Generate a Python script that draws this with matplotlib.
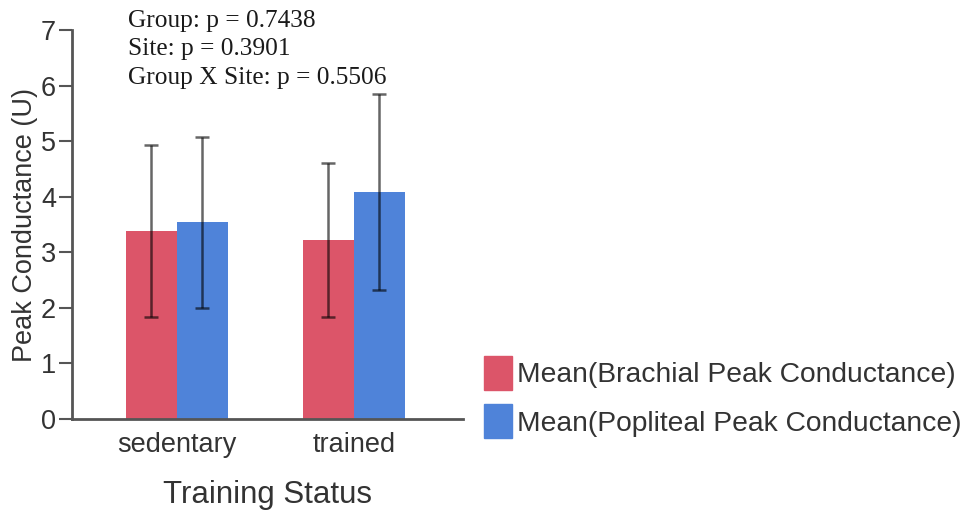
import matplotlib
matplotlib.use("Agg")
import matplotlib.pyplot as plt
import numpy as np
from matplotlib.patches import Patch

# Data
categories = ["sedentary", "trained"]
series_names = ["Mean(Brachial Peak Conductance)", "Mean(Popliteal Peak Conductance)"]
brachial_mean = [3.38, 3.22]
brachial_sd = [1.55, 1.39]
popliteal_mean = [3.54, 4.09]
popliteal_sd = [1.54, 1.76]
y_ticks = [0, 1, 2, 3, 4, 5, 6, 7]
stats_lines = ["Group: p = 0.7438", "Site: p = 0.3901", "Group X Site: p = 0.5506"]

red = "#DC5569"
blue = "#4F83D9"
axis_gray = "#555555"
text_gray = "#333333"

W, H = 971, 512
fig = plt.figure(figsize=(W / 100, H / 100), dpi=100)
ax = fig.add_axes([72 / W, 1 - 419 / H, (463 - 72) / W, (419 - 30) / H])

x = np.arange(len(categories))
bw = 0.288
err_kw = dict(ecolor="black", elinewidth=1.8, capsize=5, capthick=1.8, alpha=0.6)
ax.bar(x - bw / 2, brachial_mean, bw, color=red, zorder=2)
ax.bar(x + bw / 2, popliteal_mean, bw, color=blue, zorder=2)
ax.errorbar(x - bw / 2, brachial_mean, yerr=brachial_sd, fmt="none", zorder=3, **err_kw)
ax.errorbar(x + bw / 2, popliteal_mean, yerr=popliteal_sd, fmt="none", zorder=3, **err_kw)

ax.set_xlim(-0.593, 1.616)
ax.set_ylim(0, 7)
ax.set_yticks(y_ticks)
ax.set_xticks(x)
ax.set_xticklabels(categories)
for s in ["top", "right"]:
    ax.spines[s].set_visible(False)
for s in ["left", "bottom"]:
    ax.spines[s].set_color(axis_gray)
    ax.spines[s].set_linewidth(2)
ax.tick_params(axis="y", length=9.5, width=1.5, color=axis_gray, labelsize=19.5,
               labelcolor=text_gray, pad=2)
ax.tick_params(axis="x", length=0, labelsize=19.5, labelcolor=text_gray, pad=9)
for lbl in ax.get_xticklabels() + ax.get_yticklabels():
    lbl.set_fontfamily("Liberation Sans")

ax.set_xlabel("Training Status", fontsize=22.5, color=text_gray,
              family="Liberation Sans", labelpad=16)
ax.set_ylabel("Peak Conductance (U)", fontsize=19.5, color=text_gray,
              family="Liberation Sans", labelpad=2)

# ANOVA results
for i, line in enumerate(stats_lines):
    fig.text(128 / W, 1 - (21 + 28.5 * i) / H, line, fontsize=18.3,
             family="Liberation Serif", color="#1a1a1a", va="center", ha="left")

handles = [Patch(color=red), Patch(color=blue)]
fig.legend(handles, series_names, loc="center left",
           bbox_to_anchor=(470 / W, 1 - 397 / H), frameon=False,
           prop={"family": "Liberation Sans", "size": 20.3},
           handlelength=1.0, handleheight=1.5, handletextpad=0.15,
           labelspacing=0.5, borderpad=0, labelcolor=text_gray)

fig.savefig("out.png", dpi=100)
